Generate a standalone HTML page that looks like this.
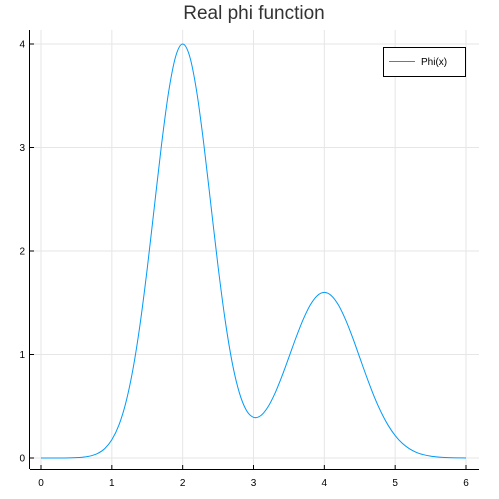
<!DOCTYPE html>
<html><head><meta charset="utf-8"><style>
html,body{margin:0;padding:0;background:#fff;}
svg{display:block;font-family:"Liberation Sans",sans-serif;}
</style></head><body>
<svg id="chart" width="499" height="499">
<text x="254" y="19" text-anchor="middle" font-size="19" fill="#333">Real phi function</text>
<g id="grid"></g><g id="axes"></g><g id="series"></g>
<g>
<rect x="383.5" y="47.5" width="82" height="29" fill="#fff" stroke="#000" stroke-width="1"/>
<line x1="389" y1="61.5" x2="415" y2="61.5" stroke="#009af9" stroke-width="1"/>
<text x="421" y="65" font-size="10" fill="#000">Phi(x)</text>
</g>
</svg>
<script>
const xTicks=[0,1,2,3,4,5,6];
const yTicks=[0,1,2,3,4];
const xs=[0,0.1,0.2,0.3,0.4,0.5,0.6,0.7,0.8,0.9,1.0,1.1,1.2,1.3,1.4,1.5,1.6,1.7,1.8,1.9,2.0,2.1,2.2,2.3,2.4,2.5,2.6,2.7,2.8,2.9,3.0,3.1,3.2,3.3,3.4,3.5,3.6,3.7,3.8,3.9,4.0,4.1,4.2,4.3,4.4,4.5,4.6,4.7,4.8,4.9,5.0,5.1,5.2,5.3,5.4,5.5,5.6,5.7,5.8,5.9,6.0];
const phi=[0,0,0,0,0.001,0.004,0.009,0.020,0.044,0.091,0.176,0.318,0.541,0.865,1.299,1.831,2.426,3.019,3.53,3.877,4.0,3.878,3.532,3.024,2.436,1.849,1.331,0.919,0.631,0.460,0.393,0.408,0.489,0.620,0.788,0.974,1.163,1.336,1.477,1.568,1.6,1.568,1.477,1.336,1.162,0.970,0.779,0.600,0.445,0.317,0.217,0.142,0.090,0.054,0.032,0.018,0.010,0.005,0.002,0.001,0.0005];
const NS="http://www.w3.org/2000/svg";
const L=30,R=479,T=30,B=469;
const sx=v=>41+v*(466-41)/6;
const sy=v=>458-v*(458-44)/4;
function mk(tag,attrs,parent){const e=document.createElementNS(NS,tag);for(const k in attrs)e.setAttribute(k,attrs[k]);parent.appendChild(e);return e;}
const grid=document.getElementById('grid'),axes=document.getElementById('axes'),ser=document.getElementById('series');
xTicks.forEach(t=>{
 const g=mk('line',{x1:sx(t),x2:sx(t),y1:T,y2:B,stroke:'#e6e6e6','stroke-width':1},grid);
 
 
 const tk=mk('line',{x1:sx(t),x2:sx(t),y1:B,y2:B-4,stroke:'#000','stroke-width':1},axes);
 
 
 const tx=mk('text',{x:sx(t),y:486,'text-anchor':'middle','font-size':10,fill:'#000'},axes);
 tx.textContent=t;
 
 
});
yTicks.forEach(t=>{
 const g=mk('line',{x1:L,x2:R,y1:sy(t),y2:sy(t),stroke:'#e6e6e6','stroke-width':1},grid);
 
 
 const tk=mk('line',{x1:L,x2:L+4,y1:sy(t),y2:sy(t),stroke:'#000','stroke-width':1},axes);
 
 
 const tx=mk('text',{x:25,y:sy(t)+3.5,'text-anchor':'end','font-size':10,fill:'#000'},axes);
 tx.textContent=t;
 
 
});
const xa=mk('line',{x1:L,x2:R,y1:B+0.5,y2:B+0.5,stroke:'#000','stroke-width':1},axes);


const ya=mk('line',{x1:L-0.5,x2:L-0.5,y1:T,y2:B,stroke:'#000','stroke-width':1},axes);


const P=xs.map((x,i)=>[sx(x),sy(phi[i])]);
let d='M'+P[0][0]+','+P[0][1];
for(let i=0;i<P.length-1;i++){
 const p0=P[Math.max(0,i-1)],p1=P[i],p2=P[i+1],p3=P[Math.min(P.length-1,i+2)];
 const c1=[p1[0]+(p2[0]-p0[0])/6,p1[1]+(p2[1]-p0[1])/6];
 const c2=[p2[0]-(p3[0]-p1[0])/6,p2[1]-(p3[1]-p1[1])/6];
 d+=' C'+c1+' '+c2+' '+p2;
}
const line=mk('path',{d:d,fill:'none',stroke:'#009af9','stroke-width':1},ser);


</script>
</body></html>
